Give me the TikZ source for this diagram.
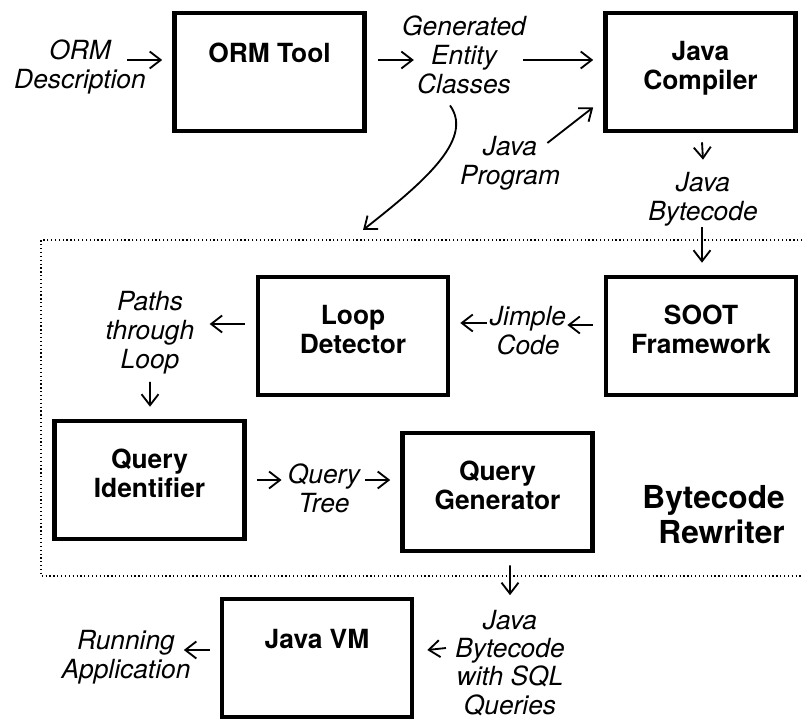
\documentclass[tikz,border=0pt]{standalone}
\usepackage{fontspec}
\setmainfont{TeX Gyre Heros}
\usetikzlibrary{arrows.meta}

\begin{document}
\begin{tikzpicture}[x=0.2mm,y=-0.2mm,
	blk/.style={draw,line width=2.6pt,minimum width=38mm,minimum height=23.6mm,inner sep=0pt,align=center,
		font=\fontsize{15}{16.5}\selectfont\bfseries,text height=24pt,text depth=3.6pt},
	blkone/.style={blk,text height=12pt,text depth=23pt},
	lbl/.style={align=center,inner sep=0pt,font=\fontsize{15}{16.5}\selectfont\itshape},
	arr/.style={-{Straight Barb[length=2.2mm,width=3.4mm]},line width=1.05pt}]
	\useasboundingbox (0,0) rectangle (802,720);
	% the rewriter area, open to the right
	\draw[line width=1.2pt,dash pattern=on 0.7pt off 1.5pt] (810,240) -- (41,240) -- (41,576) -- (810,576);
	\node[blkone] (orm) at (269.5,72) {ORM Tool};
	\node[blk] (jc) at (700.5,72) {Java\\Compiler};
	\node[blk] (soot) at (701,336) {SOOT\\Framework};
	\node[blk] (loop) at (353,336) {Loop\\Detector};
	\node[blk] (qid) at (149.5,480) {Query\\Identifier};
	\node[blk] (qgen) at (497.5,492) {Query\\Generator};
	\node[blkone] (jvm) at (317,658) {Java VM};
	\node[lbl] (desc) at (80,67) {ORM\\Description};
	\node[lbl] (gen) at (464,55) {Generated\\Entity\\Classes};
	\node[lbl] (prog) at (510,163) {Java\\Program};
	\node[lbl] (jbc) at (703,199) {Java\\Bytecode};
	\node[lbl] (jimple) at (528,331) {Jimple\\Code};
	\node[lbl] (paths) at (150,333) {Paths\\through\\Loop};
	\node[lbl] (tree) at (324,488) {Query\\Tree};
	\node[lbl,font=\fontsize{15}{16}\selectfont\itshape] (jbsql) at (510,663) {Java\\Bytecode\\with SQL\\Queries};
	\node[lbl] (run) at (126,657) {Running\\Application};
	\node[align=right,anchor=east,inner sep=0pt,font=\fontsize{18}{20}\selectfont\bfseries] (bcr) at (785,515) {Bytecode\\Rewriter};
	\coordinate (rwin) at (363,230);
	\draw[arr] ([shift={(-19,-7)}]desc.east) -- ([shift={(-10,-12)}]orm.west);
	\draw[arr] ([shift={(11,-12)}]orm.east) -- ([shift={(12,5)}]gen.west);
	\draw[arr] ([shift={(-3,5)}]gen.east) -- ([shift={(-10,-12)}]jc.west);
	\draw[arr] ([shift={(-14,11)}]gen.south) .. controls (475,140) and (420,185) .. (rwin);
	\draw[arr] ([shift={(-13,-20)}]prog.east) -- ([shift={(-10,-26)}]jc.south west);
	\draw[arr] ([shift={(1.5,9)}]jc.south) -- ([shift={(0,-12)}]jbc.north);
	\draw[arr] ([shift={(-1,1)}]jbc.south) -- ([shift={(1,-12)}]soot.north);
	\draw[arr] ([shift={(-11,-11)}]soot.west) -- ([shift={(1,-6)}]jimple.east);
	\draw[arr] ([shift={(-3,-8)}]jimple.west) -- ([shift={(10,-13)}]loop.east);
	\draw[arr] ([shift={(-11,-12)}]loop.west) -- ([shift={(15,-9)}]paths.east);
	\draw[arr] ([shift={(0,7)}]paths.south) -- ([shift={(0.5,-12)}]qid.north);
	\draw[arr] ([shift={(10,0)}]qid.east) -- ([shift={(-6,-8)}]tree.west);
	\draw[arr] ([shift={(5,-8)}]tree.east) -- ([shift={(-10,-12)}]qgen.west);
	\draw[arr] ([shift={(12.5,12)}]qgen.south) -- ([shift={(0,-15)}]jbsql.north);
	\draw[arr] ([shift={(-9,-15)}]jbsql.west) -- ([shift={(13,-8)}]jvm.east);
	\draw[arr] ([shift={(-10,-8)}]jvm.west) -- ([shift={(-7,-7)}]run.east);
\end{tikzpicture}
\end{document}
